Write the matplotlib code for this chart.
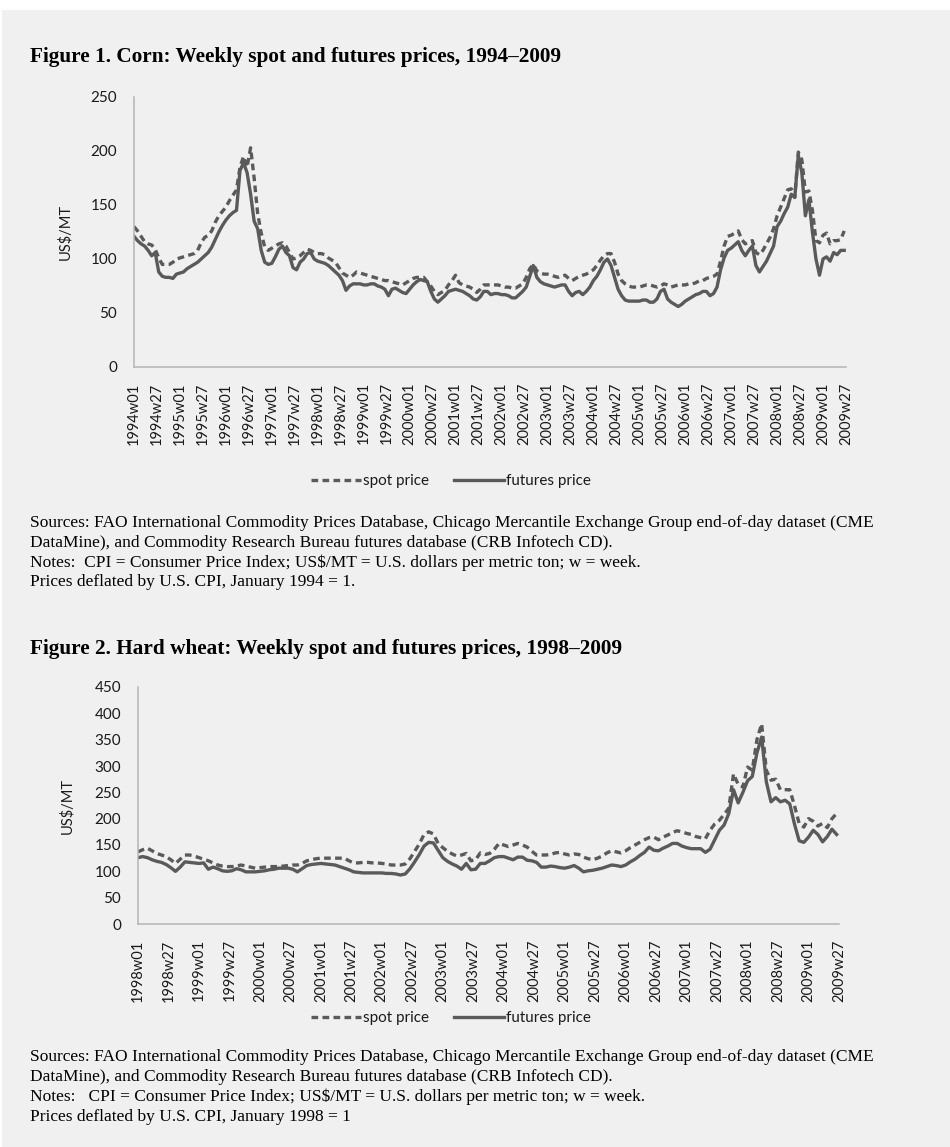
import matplotlib
matplotlib.use("Agg")
import matplotlib.pyplot as plt
import numpy as np
from matplotlib.patches import Rectangle

# ---------------- data (one reading every 4 weeks) ----------------
SAMPLE_STEP = 4  # weeks between readings

corn_futures = [
    121, 117, 114, 112, 108, 103, 106, 88, 84, 83, 83, 82, 86,        # 1994
    87, 88, 91, 93, 95, 97, 100, 103, 106, 111, 118, 125, 131,        # 1995
    136, 140, 143, 145, 182, 189, 180, 160, 135, 128, 108, 97, 95,    # 1996
    96, 102, 109, 112, 106, 103, 92, 90, 97, 100, 105, 106, 100,      # 1997
    98, 97, 96, 94, 91, 88, 85, 80, 71, 75, 77, 77, 77,               # 1998
    76, 76, 77, 77, 75, 74, 72, 66, 72, 73, 71, 69, 68,               # 1999
    72, 76, 79, 81, 80, 79, 70, 63, 60, 63, 66, 70, 71,               # 2000
    72, 71, 70, 68, 66, 63, 62, 65, 70, 70, 67, 68, 68,               # 2001
    67, 67, 66, 64, 64, 67, 70, 74, 84, 94, 83, 79, 77,               # 2002
    76, 75, 74, 75, 76, 76, 70, 66, 69, 70, 67, 70, 74,               # 2003
    80, 84, 90, 97, 100, 94, 83, 72, 66, 62, 61, 61, 61,              # 2004
    61, 62, 62, 60, 60, 63, 70, 72, 63, 60, 58, 56, 58,               # 2005
    61, 63, 65, 67, 68, 70, 70, 66, 68, 74, 90, 101, 108,             # 2006
    110, 113, 116, 108, 103, 108, 112, 94, 88, 93, 98, 105, 112,      # 2007
    130, 135, 142, 148, 160, 157, 196, 180, 140, 155, 125, 100, 85,   # 2008
    100, 102, 98, 106, 104, 108, 108,                                 # 2009
]
corn_spot = [
    130, 126, 121, 116, 114, 113, 109, 101, 95, 95, 95, 97, 100,      # 1994
    101, 102, 103, 104, 105, 108, 115, 120, 122, 126, 134, 140, 144,  # 1995
    148, 154, 159, 164, 185, 195, 185, 203, 175, 142, 124, 111, 108,  # 1996
    110, 112, 114, 115, 112, 106, 100, 101, 103, 106, 109, 108, 106,  # 1997
    105, 105, 104, 101, 99, 97, 92, 87, 85, 83, 85, 88, 87,           # 1998
    86, 85, 84, 83, 82, 81, 80, 80, 79, 78, 77, 76, 78,               # 1999
    80, 82, 83, 83, 83, 79, 75, 70, 67, 69, 71, 76, 80,               # 2000
    85, 78, 76, 75, 74, 72, 69, 72, 76, 76, 76, 76, 76,               # 2001
    75, 74, 74, 73, 73, 75, 77, 83, 91, 95, 89, 87, 86,               # 2002
    86, 85, 84, 83, 84, 85, 82, 80, 82, 84, 85, 86, 88,               # 2003
    90, 94, 99, 103, 105, 105, 97, 86, 80, 77, 75, 74, 74,            # 2004
    74, 75, 76, 76, 75, 74, 75, 77, 76, 74, 75, 76, 76,               # 2005
    76, 77, 77, 78, 80, 80, 82, 83, 84, 86, 98, 112, 121,             # 2006
    122, 124, 126, 118, 114, 116, 117, 106, 104, 108, 114, 120, 128,  # 2007
    140, 148, 156, 164, 165, 157, 199, 192, 162, 163, 145, 117, 115,  # 2008
    122, 124, 114, 117, 117, 118, 126,                                # 2009
]

wheat_futures = [
    126, 128, 126, 122, 119, 117, 113, 107, 100, 108, 118, 117, 116,  # 1998
    115, 116, 104, 108, 105, 101, 100, 101, 105, 103, 99, 99, 99,     # 1999
    100, 101, 103, 104, 106, 106, 106, 104, 99, 105, 111, 113, 114,   # 2000
    115, 114, 113, 112, 109, 106, 103, 99, 98, 97, 97, 97, 97,        # 2001
    97, 96, 96, 95, 93, 95, 105, 118, 132, 148, 155, 154, 140,        # 2002
    126, 119, 114, 110, 104, 115, 103, 104, 115, 115, 120, 126, 128,  # 2003
    128, 125, 122, 127, 127, 121, 120, 117, 108, 108, 110, 109, 107,  # 2004
    106, 108, 111, 106, 99, 101, 102, 104, 106, 109, 112, 111, 109,   # 2005
    112, 118, 123, 130, 136, 146, 140, 139, 144, 148, 153, 153, 148,  # 2006
    145, 143, 143, 143, 136, 142, 160, 178, 188, 210, 255, 230, 250,  # 2007
    272, 280, 325, 355, 270, 232, 240, 232, 235, 228, 190, 158, 155,  # 2008
    165, 178, 170, 156, 166, 180, 170,                                # 2009
]
wheat_spot = [
    137, 141, 144, 139, 134, 131, 128, 122, 115, 123, 131, 131, 129,  # 1998
    126, 123, 120, 116, 112, 110, 109, 109, 110, 112, 110, 108, 106,  # 1999
    107, 108, 109, 109, 109, 110, 111, 112, 112, 115, 120, 122, 124,  # 2000
    125, 125, 125, 125, 125, 125, 120, 116, 116, 117, 117, 116, 116,  # 2001
    115, 114, 112, 112, 112, 114, 124, 138, 152, 170, 175, 171, 153,  # 2002
    145, 138, 133, 129, 131, 134, 120, 122, 135, 132, 134, 142, 153,  # 2003
    150, 147, 150, 153, 150, 146, 138, 131, 131, 131, 132, 135, 136,  # 2004
    133, 131, 133, 132, 127, 124, 122, 125, 129, 135, 139, 137, 135,  # 2005
    139, 145, 150, 155, 160, 164, 165, 160, 165, 169, 174, 177, 175,  # 2006
    172, 170, 166, 164, 162, 178, 190, 197, 208, 220, 285, 265, 260,  # 2007
    298, 292, 350, 380, 292, 273, 275, 255, 255, 255, 225, 191, 184,  # 2008
    200, 195, 186, 191, 183, 200, 210,                                # 2009
]

corn_yticks = [0, 50, 100, 150, 200, 250]
wheat_yticks = [0, 50, 100, 150, 200, 250, 300, 350, 400, 450]
legend_labels = ["spot price", "futures price"]


def week_labels(y0, y1, last_week):
    out = []
    for y in range(y0, y1 + 1):
        for w in range(1, 53):
            out.append(f"{y}w{w:02d}")
            if y == y1 and w == last_week:
                return out
    return out


corn_weeks = week_labels(1994, 2009, 27)
wheat_weeks = week_labels(1998, 2009, 27)

title1 = "Figure 1. Corn: Weekly spot and futures prices, 1994\u20132009"
title2 = "Figure 2. Hard wheat: Weekly spot and futures prices, 1998\u20132009"
notes1 = [
    "Sources: FAO International Commodity Prices Database, Chicago Mercantile Exchange Group end-of-day dataset (CME",
    "DataMine), and Commodity Research Bureau futures database (CRB Infotech CD).",
    "Notes:  CPI = Consumer Price Index; US$/MT = U.S. dollars per metric ton; w = week.",
    "Prices deflated by U.S. CPI, January 1994 = 1.",
]
notes2 = [
    "Sources: FAO International Commodity Prices Database, Chicago Mercantile Exchange Group end-of-day dataset (CME",
    "DataMine), and Commodity Research Bureau futures database (CRB Infotech CD).",
    "Notes:   CPI = Consumer Price Index; US$/MT = U.S. dollars per metric ton; w = week.",
    "Prices deflated by U.S. CPI, January 1998 = 1",
]

# ---------------- layout / style ----------------
W, H = 950, 1147
BG = "#f0f0f0"
LINE = "#5a5a5a"
SPINE = "#b4b4b4"
SANS = ["Lato", "DejaVu Sans"]
SERIF = ["Liberation Serif", "DejaVu Serif"]

fig = plt.figure(figsize=(W / 100, H / 100), dpi=100, facecolor=BG)
fig.patches.append(Rectangle((0, 1 - 10 / H), 1, 10 / H, transform=fig.transFigure,
                             facecolor="white", edgecolor="none", zorder=0))
fig.patches.append(Rectangle((0, 0), 2 / W, 1, transform=fig.transFigure,
                             facecolor="white", edgecolor="none", zorder=0))


def fx(px):
    return px / W


def fy(py):
    return 1 - py / H


def panel(box, cats, spot, fut, yticks, legend_y, ylab_x):
    l, r, t, b = box
    ax = fig.add_axes([fx(l), fy(b), (r - l) / W, (b - t) / H])
    ax.set_facecolor("none")
    xs = np.arange(len(spot)) * SAMPLE_STEP
    h1, = ax.plot(xs, spot, color=LINE, lw=2.4, ls=(0, (2.0, 1.3)),
                  dash_capstyle="butt", label=legend_labels[0])
    h2, = ax.plot(xs, fut, color=LINE, lw=2.4, solid_joinstyle="round",
                  label=legend_labels[1])
    ax.set_xlim(0, len(cats) - 1)
    ax.set_ylim(yticks[0], yticks[-1])
    ticks = np.arange(0, len(cats), 26)
    ax.set_xticks(ticks)
    ax.set_xticklabels([cats[i] for i in ticks], rotation=90, fontsize=10.5,
                       family=SANS, color="#1a1a1a")
    ax.set_yticks(yticks)
    ax.set_yticklabels([str(v) for v in yticks], fontsize=11, family=SANS,
                       color="#1a1a1a")
    ax.tick_params(axis="x", length=0, pad=11)
    ax.tick_params(axis="y", length=0, pad=12)
    for s in ("top", "right"):
        ax.spines[s].set_visible(False)
    for s in ("left", "bottom"):
        ax.spines[s].set_color(SPINE)
        ax.spines[s].set_linewidth(1.1)
    fig.text(fx(ylab_x), fy((t + b) / 2), "US$/MT", rotation=90, ha="center",
             va="center", fontsize=10.5, family=SANS, color="#1a1a1a")
    fig.legend([h1, h2], legend_labels, loc="center",
               bbox_to_anchor=(fx(451), fy(legend_y)), ncol=2, frameon=False,
               prop={"family": SANS, "size": 11}, handlelength=3.3,
               handletextpad=0.15, columnspacing=1.6, labelcolor="#1a1a1a")
    return ax


panel((134, 846, 97, 367), corn_weeks, corn_spot, corn_futures, corn_yticks, 481, 65)
panel((138, 839, 687, 924), wheat_weeks, wheat_spot, wheat_futures, wheat_yticks, 1018, 67)

fig.text(fx(30), fy(57), title1, fontsize=15.3, fontweight="bold", family=SERIF,
         ha="left", va="center")
fig.text(fx(30), fy(649), title2, fontsize=15.3, fontweight="bold", family=SERIF,
         ha="left", va="center")
for yy, line in zip([523, 543, 563, 582], notes1):
    fig.text(fx(30), fy(yy), line, fontsize=12.5, family=SERIF, ha="left",
             va="center", parse_math=False)
for yy, line in zip([1057, 1077, 1097, 1117], notes2):
    fig.text(fx(30), fy(yy), line, fontsize=12.5, family=SERIF, ha="left",
             va="center", parse_math=False)

fig.savefig("out.png", dpi=100, facecolor=BG)
